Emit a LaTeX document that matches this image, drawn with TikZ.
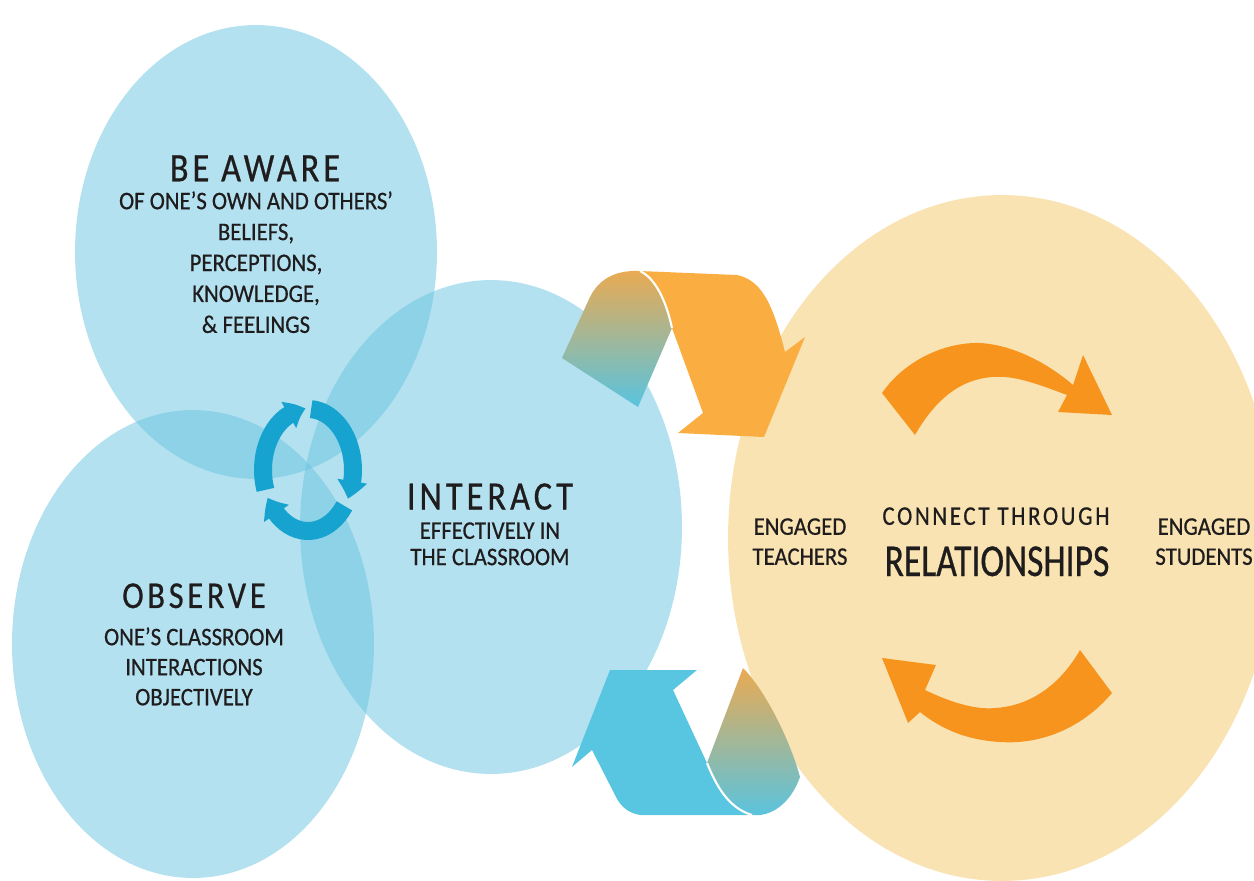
\documentclass[tikz,border=0pt]{standalone}
\usepackage{fontspec}
\setmainfont{Carlito}
\newfontfamily\headfont{Carlito}[FakeStretch=0.85,LetterSpace=10,FakeBold=0.6]
\newfontfamily\bodyfont{Carlito}[FakeStretch=0.9,FakeBold=0.6]
\newfontfamily\condfont{Carlito}[FakeStretch=0.78,FakeBold=0.6]
\usepackage{tikz}
\usetikzlibrary{arrows.meta,bending}

\definecolor{blueblob}{RGB}{105,195,225}
\definecolor{sand}{RGB}{249,227,178}
\definecolor{ribbonorange}{RGB}{250,174,66}
\definecolor{ribbonblue}{RGB}{88,197,225}
\definecolor{cycleorange}{RGB}{247,148,30}
\definecolor{iconblue}{RGB}{22,163,207}
\definecolor{fadeorange}{RGB}{234,170,82}
\definecolor{fadeblue}{RGB}{88,196,224}
\definecolor{ink}{RGB}{30,28,28}

\begin{document}
\begin{tikzpicture}[x=0.02cm, y=-0.02cm,
    blob/.style={fill=blueblob, fill opacity=0.5},
    iconarc/.style={draw=iconblue, line width=0.36cm, -{Triangle[width=0.58cm,length=0.36cm,bend]}},
    title/.style={inner sep=0pt, anchor=north, text=ink, font=\headfont\fontsize{23}{26}\selectfont},
    lines/.style={inner sep=0pt, anchor=north, align=center, text=ink, font=\bodyfont\fontsize{14.4}{17.1}\selectfont}]

    \path[use as bounding box] (0,0) rectangle (1254,880);
    \clip (0,0) rectangle (1254,880);

    % The ellipses
    \fill[sand] (1002,538) ellipse [x radius=5.48cm, y radius=6.86cm];
    \fill[blob] (256,252) ellipse [x radius=3.62cm, y radius=4.54cm];
    \fill[blob] (193,644) ellipse [x radius=3.62cm, y radius=4.68cm];
    \fill[blob] (491,527) ellipse [x radius=3.82cm, y radius=4.94cm];

    % The cycle icon
    \coordinate (icon) at (308,470);
    \draw[iconarc] (icon) ++(86:0.9cm and 1.22cm) arc [start angle=86, end angle=-28, x radius=0.9cm, y radius=1.22cm];
    \draw[iconarc] (icon) ++(-36:0.9cm and 1.22cm) arc [start angle=-36, end angle=-153, x radius=0.9cm, y radius=1.22cm];
    \draw[iconarc] (icon) ++(-161:0.9cm and 1.22cm) arc [start angle=-161, end angle=-267, x radius=0.9cm, y radius=1.22cm];

    % Top ribbon
    \shade[top color=fadeorange, bottom color=fadeblue] (562,358) -- (590,297) .. controls (600,277) and (618,270) .. (640,271)
        .. controls (655,278) and (666,300) .. (672,328) -- (638,407) -- cycle;
    \fill[ribbonorange] (640,271) -- (737,275) .. controls (760,280) and (772,300) .. (785,352) -- (805,337) -- (764,437)
        -- (678,433) -- (703,413) -- (672,328) .. controls (666,300) and (655,278) .. (640,271) -- cycle;
    \draw[white, line width=1.2pt] (640,271) .. controls (655,278) and (666,300) .. (672,328);

    % Bottom ribbon
    \shade[top color=fadeorange, bottom color=fadeblue] (743,668) -- (707,763) .. controls (716,785) and (728,808) .. (752,815)
        .. controls (770,817) and (790,805) .. (800,777) .. controls (790,740) and (765,690) .. (743,668) -- cycle;
    \fill[ribbonblue] (610,670) -- (697,670) -- (673,690) -- (707,763) .. controls (716,785) and (728,808) .. (752,815)
        -- (640,815) .. controls (628,813) and (620,806) .. (615,795) -- (592,750) -- (572,767) -- cycle;
    \draw[white, line width=1.2pt] (707,763) .. controls (716,785) and (728,808) .. (752,815);

    % Arrows in the relationship ellipse
    \fill[cycleorange] (882,393) .. controls (905,360) and (945,342) .. (980,343) .. controls (1015,345) and (1050,365) .. (1073,385)
        -- (1083,355) -- (1112,415) -- (1058,412) -- (1067,395) .. controls (1040,385) and (1015,375) .. (993,377)
        .. controls (960,379) and (935,400) .. (915,435) -- cycle;
    \fill[cycleorange] (1080,650) -- (1112,693) .. controls (1085,725) and (1045,745) .. (1000,742) .. controls (965,740) and (940,728) .. (920,712)
        -- (908,723) -- (882,658) -- (936,665) -- (925,690) .. controls (950,702) and (975,710) .. (995,708)
        .. controls (1030,706) and (1060,685) .. (1080,650) -- cycle;

    % Labels
    \node[title] (awarehead) at (255,155) {BE AWARE};
    \node[lines, font=\bodyfont\fontsize{14.4}{17.6}\selectfont] (awaretext) at (256,191)
        {OF ONE’S OWN AND OTHERS’\\BELIEFS,\\PERCEPTIONS,\\KNOWLEDGE,\\\& FEELINGS};
    \node[title] (interacthead) at (490,483) {INTERACT};
    \node[lines, font=\bodyfont\fontsize{14.4}{15}\selectfont] (interacttext) at (490,522) {EFFECTIVELY IN\\THE CLASSROOM};
    \node[title, font=\headfont\fontsize{21.6}{24}\selectfont] (observehead) at (194,583) {OBSERVE};
    \node[lines] (observetext) at (194,627) {ONE’S CLASSROOM\\INTERACTIONS\\OBJECTIVELY};
    \node[lines] (teachers) at (800,518) {ENGAGED\\TEACHERS};
    \node[title, font=\headfont\fontsize{15.3}{17}\selectfont] (connect) at (996,507) {CONNECT THROUGH};
    \node[title, font=\condfont\fontsize{26}{28}\selectfont] (relations) at (997,546) {RELATIONSHIPS};
    \node[lines] (students) at (1204,518) {ENGAGED\\STUDENTS};

\end{tikzpicture}
\end{document}
